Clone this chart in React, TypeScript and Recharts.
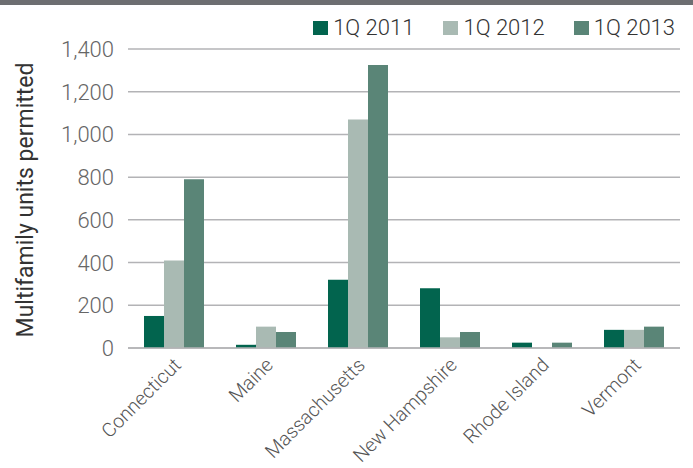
import React from 'react';
import { BarChart, Bar, XAxis, YAxis, CartesianGrid } from 'recharts';

const states = ['Connecticut', 'Maine', 'Massachusetts', 'New Hampshire', 'Rhode Island', 'Vermont'];
const q2011 = [150, 15, 320, 280, 25, 85];
const q2012 = [410, 100, 1070, 50, 0, 85];
const q2013 = [790, 75, 1325, 75, 25, 100];
const yTicks = [0, 200, 400, 600, 800, 1000, 1200, 1400];

const seriesNames = ['1Q 2011', '1Q 2012', '1Q 2013'];
const seriesColors = ['#02644e', '#a9bab3', '#5a8577'];

const data = states.map((state, i) => ({
  state,
  q2011: q2011[i],
  q2012: q2012[i],
  q2013: q2013[i],
}));

const FONT = 'Roboto, "Helvetica Neue", Arial, sans-serif';

const CategoryTick = (props: any) => {
  const { x, y, payload } = props;
  return (
    <g transform={`translate(${x - 1},${y + 1})`}>
      <text
        x={0}
        y={0}
        dy={13}
        textAnchor="end"
        transform="rotate(-45)"
        fontSize={19.5}
        fontWeight={300}
        fill="#555"
        fontFamily={FONT}
      >
        {payload.value}
      </text>
    </g>
  );
};

const ValueTick = (props: any) => {
  const { x, y, payload } = props;
  return (
    <text x={x} y={y} dy={8} textAnchor="end" fontSize={22} fontWeight={300} fill="#666" fontFamily={FONT}>
      {payload.value.toLocaleString('en-US')}
    </text>
  );
};

const TopLegend = () => (
  <div
    style={{
      position: 'absolute',
      top: 14,
      right: 18,
      display: 'flex',
      gap: 29,
      fontFamily: FONT,
      fontWeight: 300,
      fontSize: 22,
      lineHeight: '28px',
      color: '#333',
    }}
  >
    {seriesNames.map((name, i) => (
      <div key={name} style={{ display: 'flex', alignItems: 'center', gap: 5 }}>
        <div style={{ width: 15, height: 14, background: seriesColors[i] }} />
        <span>{name}</span>
      </div>
    ))}
  </div>
);

export default function App() {
  return (
    <div style={{ position: 'absolute', left: 0, top: 0, width: 693, height: 468, background: '#fff' }}>
      <div style={{ position: 'absolute', left: 0, top: 0, width: 693, height: 5, background: '#6d6e71' }} />
      <BarChart
        width={693}
        height={468}
        data={data}
        margin={{ top: 49, right: 13, left: 0, bottom: 0 }}
        barCategoryGap={16}
        barGap={0}
      >
        <CartesianGrid vertical={false} stroke="#b3b3b6" strokeWidth={1.5} />
        <XAxis
          dataKey="state"
          interval={0}
          height={120}
          tickLine={false}
          axisLine={{ stroke: '#b3b3b6', strokeWidth: 1.5 }}
          tick={<CategoryTick />}
        />
        <YAxis
          width={128}
          domain={[0, 1400]}
          ticks={yTicks}
          tickLine={false}
          axisLine={false}
          tickMargin={8}
          tick={<ValueTick />}
          label={{
            content: () => (
              <text
                x={0}
                y={0}
                transform="translate(33,200) rotate(-90)"
                textAnchor="middle"
                fontSize={23}
                fill="#333"
                fontFamily={FONT}
              >
                Multifamily units permitted
              </text>
            ),
          }}
        />
        {seriesNames.map((name, i) => (
          <Bar
            key={name}
            dataKey={['q2011', 'q2012', 'q2013'][i]}
            name={name}
            fill={seriesColors[i]}
            isAnimationActive={false}
          />
        ))}
      </BarChart>
      <TopLegend />
    </div>
  );
}
